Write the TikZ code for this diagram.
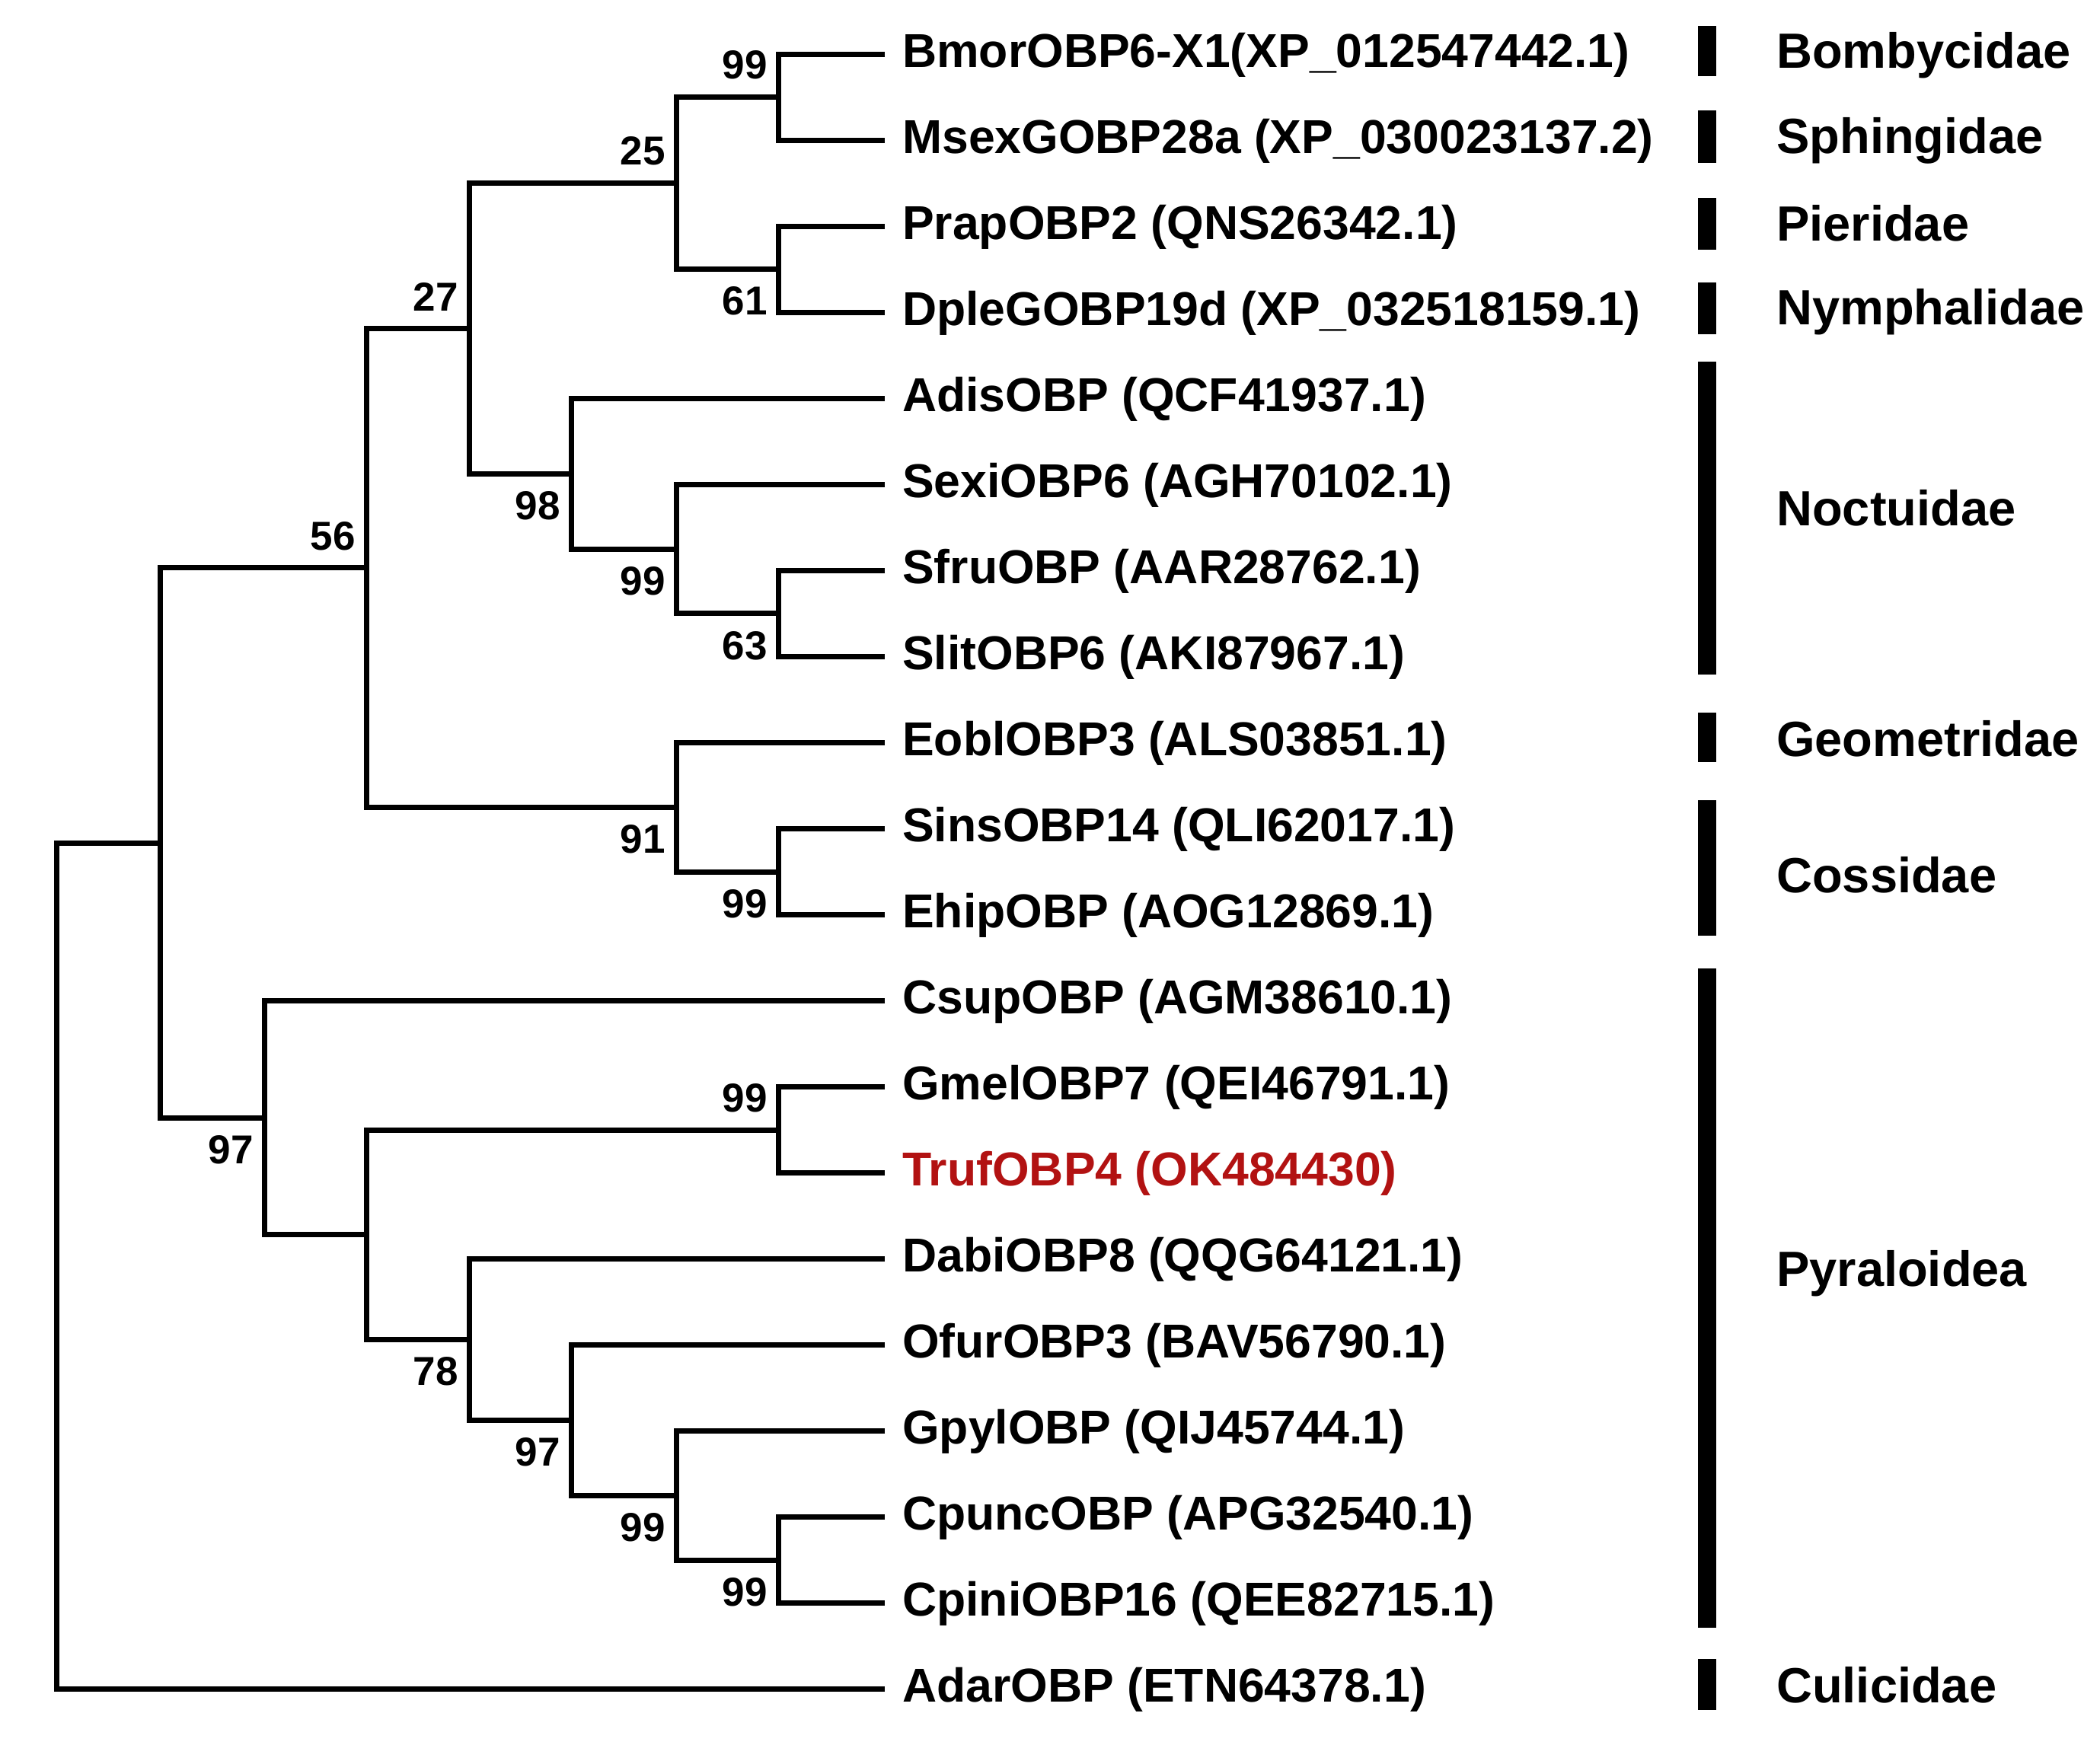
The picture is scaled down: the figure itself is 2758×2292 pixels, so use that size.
\documentclass[tikz,border=0pt]{standalone}
\usepackage{fontspec}
\setmainfont{Liberation Sans}
\definecolor{trufred}{RGB}{178,18,18}
\begin{document}
\begin{tikzpicture}[x=1pt,y=-1pt,
  branch/.style={line width=7pt, line join=miter},
  leaflabel/.style={anchor=base west, inner sep=0pt, font=\fontsize{62.5}{70}\selectfont\bfseries},
  famlabel/.style={anchor=base west, inner sep=0pt, font=\fontsize{65}{72}\selectfont\bfseries},
  bs/.style={inner sep=0pt, font=\fontsize{53}{56}\selectfont\bfseries},
  bsabove/.style={bs, anchor=south east, xshift=-14pt, yshift=23pt},
  bsbelow/.style={bs, anchor=north east, xshift=-14pt, yshift=-23pt},
  fambar/.style={fill=black}]
\useasboundingbox (0,0) rectangle (2758,2292);

% leaf tips
\foreach \i/\y in {0/71,1/184.05,2/297.1,3/410.15,4/523.2,5/636.25,6/749.3,7/862.35,
  8/975.4,9/1088.45,10/1201.5,11/1314.55,12/1427.6,13/1540.65,14/1653.7,15/1766.75,
  16/1879.8,17/1992.85,18/2105.9,19/2218.95}
  {\coordinate (t\i) at (1162,\y);}

% leaf labels
\node[leaflabel] (l0)  at (1185,88)      {BmorOBP6-X1(XP\_012547442.1)};
\node[leaflabel] (l1)  at (1185,201.05)  {MsexGOBP28a (XP\_030023137.2)};
\node[leaflabel] (l2)  at (1185,314.1)   {PrapOBP2 (QNS26342.1)};
\node[leaflabel] (l3)  at (1185,427.15)  {DpleGOBP19d (XP\_032518159.1)};
\node[leaflabel] (l4)  at (1185,540.2)   {AdisOBP (QCF41937.1)};
\node[leaflabel] (l5)  at (1185,653.25)  {SexiOBP6 (AGH70102.1)};
\node[leaflabel] (l6)  at (1185,766.3)   {SfruOBP (AAR28762.1)};
\node[leaflabel] (l7)  at (1185,879.35)  {SlitOBP6 (AKI87967.1)};
\node[leaflabel] (l8)  at (1185,992.4)   {EoblOBP3 (ALS03851.1)};
\node[leaflabel] (l9)  at (1185,1105.45) {SinsOBP14 (QLI62017.1)};
\node[leaflabel] (l10) at (1185,1218.5)  {EhipOBP (AOG12869.1)};
\node[leaflabel] (l11) at (1185,1331.55) {CsupOBP (AGM38610.1)};
\node[leaflabel] (l12) at (1185,1444.6)  {GmelOBP7 (QEI46791.1)};
\node[leaflabel, text=trufred] (l13) at (1185,1557.65) {TrufOBP4 (OK484430)};
\node[leaflabel] (l14) at (1185,1670.7)  {DabiOBP8 (QQG64121.1)};
\node[leaflabel] (l15) at (1185,1783.75) {OfurOBP3 (BAV56790.1)};
\node[leaflabel] (l16) at (1185,1896.8)  {GpylOBP (QIJ45744.1)};
\node[leaflabel] (l17) at (1185,2009.85) {CpuncOBP (APG32540.1)};
\node[leaflabel] (l18) at (1185,2122.9)  {CpiniOBP16 (QEE82715.1)};
\node[leaflabel] (l19) at (1185,2235.95) {AdarOBP (ETN64378.1)};

% internal nodes
\coordinate (nA)   at (1022,127.5);
\coordinate (nB)   at (1022,353.6);
\coordinate (n25)  at (888,240.6);
\coordinate (nC)   at (1022,805.8);
\coordinate (nD)   at (888,721.0);
\coordinate (n98)  at (750,622.1);
\coordinate (n27)  at (616,431.3);
\coordinate (nE)   at (1022,1145.0);
\coordinate (n91)  at (888,1060.2);
\coordinate (n56)  at (481,745.8);
\coordinate (nF)   at (1022,1484.1);
\coordinate (nG)   at (1022,2049.4);
\coordinate (nH)   at (888,1964.6);
\coordinate (n97b) at (750,1865.7);
\coordinate (n78)  at (616,1759.7);
\coordinate (nX)   at (481,1621.9);
\coordinate (n97)  at (347,1468.2);
\coordinate (nI)   at (210,1107.0);
\coordinate (root) at (74,1663.0);

% branches
\draw[branch] (t0) -| (nA) |- (t1);
\draw[branch] (t2) -| (nB) |- (t3);
\draw[branch] (nA) -| (n25) |- (nB);
\draw[branch] (t6) -| (nC) |- (t7);
\draw[branch] (t5) -| (nD) |- (nC);
\draw[branch] (t4) -| (n98) |- (nD);
\draw[branch] (n25) -| (n27) |- (n98);
\draw[branch] (t9) -| (nE) |- (t10);
\draw[branch] (t8) -| (n91) |- (nE);
\draw[branch] (n27) -| (n56) |- (n91);
\draw[branch] (t12) -| (nF) |- (t13);
\draw[branch] (t17) -| (nG) |- (t18);
\draw[branch] (t16) -| (nH) |- (nG);
\draw[branch] (t15) -| (n97b) |- (nH);
\draw[branch] (t14) -| (n78) |- (n97b);
\draw[branch] (nF) -| (nX) |- (n78);
\draw[branch] (t11) -| (n97) |- (nX);
\draw[branch] (n56) -| (nI) |- (n97);
\draw[branch] (nI) -| (root) |- (t19);

% bootstrap values
\node[bsabove] (bA)   at (nA)   {99};
\node[bsabove] (b25)  at (n25)  {25};
\node[bsbelow] (bB)   at (nB)   {61};
\node[bsabove] (b27)  at (n27)  {27};
\node[bsbelow] (b98)  at (n98)  {98};
\node[bsbelow] (bD)   at (nD)   {99};
\node[bsbelow] (bC)   at (nC)   {63};
\node[bsabove] (b56)  at (n56)  {56};
\node[bsbelow] (b91)  at (n91)  {91};
\node[bsbelow] (bE)   at (nE)   {99};
\node[bsbelow] (b97)  at (n97)  {97};
\node[bsabove] (bF)   at (nF)   {99};
\node[bsbelow] (b78)  at (n78)  {78};
\node[bsbelow] (b97b) at (n97b) {97};
\node[bsbelow] (bH)   at (nH)   {99};
\node[bsbelow] (bG)   at (nG)   {99};

% family bars
\fill[fambar] (2230,34)   rectangle (2254,100);
\fill[fambar] (2230,145)  rectangle (2254,213.5);
\fill[fambar] (2230,259.5) rectangle (2254,328);
\fill[fambar] (2230,370.5) rectangle (2254,439);
\fill[fambar] (2230,475)  rectangle (2254,886);
\fill[fambar] (2230,936)  rectangle (2254,1001);
\fill[fambar] (2230,1050.5) rectangle (2254,1229);
\fill[fambar] (2230,1272) rectangle (2254,2138);
\fill[fambar] (2230,2179) rectangle (2254,2246);

% family labels
\node[famlabel] (f1) at (2333,89)   {Bombycidae};
\node[famlabel] (f2) at (2333,201)  {Sphingidae};
\node[famlabel] (f3) at (2333,316)  {Pieridae};
\node[famlabel] (f4) at (2333,426)  {Nymphalidae};
\node[famlabel] (f5) at (2333,690)  {Noctuidae};
\node[famlabel] (f6) at (2333,993)  {Geometridae};
\node[famlabel] (f7) at (2333,1172) {Cossidae};
\node[famlabel] (f8) at (2333,1689) {Pyraloidea};
\node[famlabel] (f9) at (2333,2236) {Culicidae};
\end{tikzpicture}
\end{document}
